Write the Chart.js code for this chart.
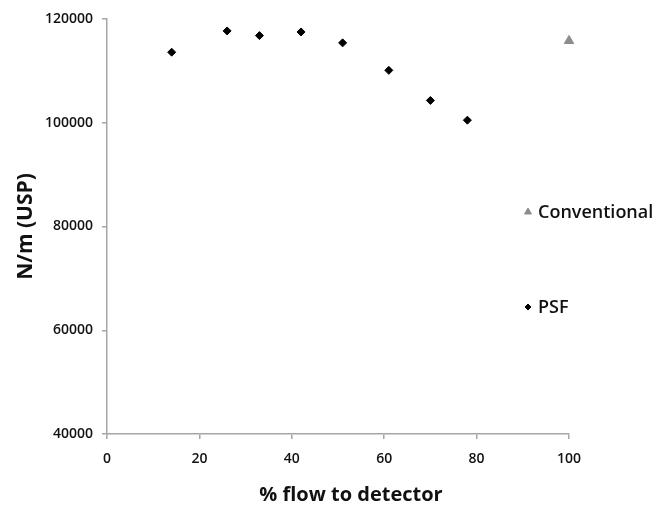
<!DOCTYPE html>
<html>
<head>
<meta charset="utf-8">
<script src="https://cdn.jsdelivr.net/npm/chart.js@4.4.1/dist/chart.umd.min.js"></script>
<style>
  html, body { margin: 0; padding: 0; background: #fff; }
  #wrap { width: 657px; height: 509px; }
</style>
</head>
<body>
<div id="wrap"><canvas id="chart"></canvas></div>
<script>
// PSF series (% flow to detector vs N/m)
const psfFlow = [14, 26, 33, 42, 51, 61, 70, 78];
const psfPlates = [113600, 117700, 116800, 117500, 115400, 110100, 104300, 100500];
// conventional column
const convFlow = [100];
const convPlates = [115800];
// axis ticks
const xTicks = [0, 20, 40, 60, 80, 100];
const yTicks = [40000, 60000, 80000, 100000, 120000];

const axisGray = '#a6a6a6';
const font = "'Open Sans', sans-serif";

// legend sits inside the plot on the right, like the original
// plus the x title, which sits a bit right of the plot centre
const extras = {
    id: 'extras',
    afterDraw(chart) {
        const ctx = chart.ctx;
        const items = [
            { label: 'Conventional', style: 'triangle', color: '#8c8c8c', r: 4, y: 212 },
            { label: 'PSF', style: 'rectRot', color: '#000', r: 3, y: 307 }
        ];
        items.forEach(function (it) {
            ctx.save();
            ctx.fillStyle = it.color;
            ctx.strokeStyle = it.color;
            Chart.helpers.drawPoint(ctx, { pointStyle: it.style, radius: it.r, borderWidth: 1 }, 528, it.y);
            ctx.fillStyle = '#111';
            ctx.font = "600 18px " + font;
            ctx.textBaseline = 'middle';
            ctx.textAlign = 'left';
            ctx.fillText(it.label, 538, it.y + 1);
            ctx.restore();
        });
        ctx.save();
        ctx.fillStyle = '#111';
        ctx.font = "bold 20px " + font;
        ctx.textAlign = 'center';
        ctx.textBaseline = 'middle';
        ctx.fillText('% flow to detector', 351, 495);
        ctx.restore();
    }
};

new Chart('chart', {
    type: 'scatter',
    data: {
        datasets: [{
            label: 'Conventional',
            data: convFlow.map(function (x, i) { return { x: x, y: convPlates[i] }; }),
            pointStyle: 'triangle',
            pointRadius: 5.4,
            backgroundColor: '#8c8c8c',
            borderColor: '#8c8c8c',
            borderWidth: 1,
            clip: false
        }, {
            label: 'PSF',
            data: psfFlow.map(function (x, i) { return { x: x, y: psfPlates[i] }; }),
            pointStyle: 'rectRot',
            pointRadius: 4,
            backgroundColor: '#000',
            borderColor: '#000',
            borderWidth: 1,
            clip: false
        }]
    },
    options: {
        responsive: true,
        maintainAspectRatio: false,
        animation: false,
        layout: { padding: { top: 19, right: 88, bottom: 0, left: 0 } },
        scales: {
            x: {
                type: 'linear',
                min: 0,
                max: 100,
                afterBuildTicks: function (s) { s.ticks = xTicks.map(function (v) { return { value: v }; }); },
                afterFit: function (s) { s.height = 75; },
                border: { color: axisGray, width: 1.5 },
                grid: { drawOnChartArea: false, drawTicks: true, tickLength: 5, color: axisGray, lineWidth: 1.5 },
                ticks: { color: '#111', padding: 12, font: { family: font, size: 14, weight: '600' } },
                title: { display: false }
            },
            y: {
                min: 40000,
                max: 120000,
                afterBuildTicks: function (s) { s.ticks = yTicks.map(function (v) { return { value: v }; }); },
                afterFit: function (s) { s.width = 107; },
                border: { color: axisGray, width: 1.5 },
                grid: { drawOnChartArea: false, drawTicks: true, tickLength: 5, color: axisGray, lineWidth: 1.5 },
                ticks: {
                    color: '#111',
                    padding: 9,
                    font: { family: font, size: 14, weight: '600' },
                    callback: function (v) { return String(v); }
                },
                title: {
                    display: true,
                    text: 'N/m (USP)',
                    color: '#111',
                    font: { family: font, size: 21, weight: 'bold' },
                    padding: { top: 13, bottom: 0 }
                }
            }
        },
        plugins: {
            legend: { display: false },
            tooltip: { enabled: false }
        }
    },
    plugins: [extras]
});
</script>
</body>
</html>
